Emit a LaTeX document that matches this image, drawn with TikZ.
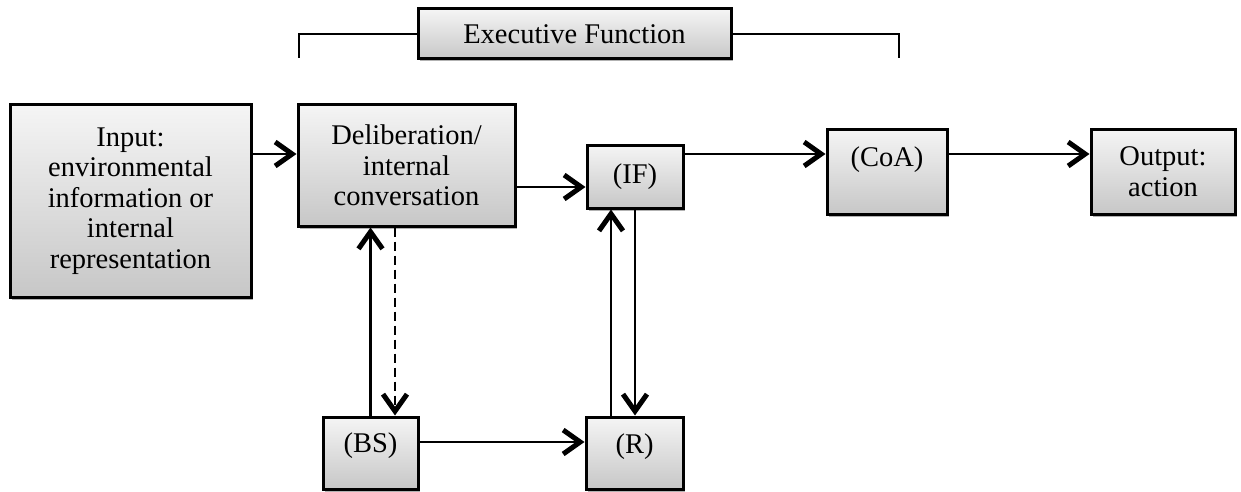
\documentclass[tikz,border=0pt]{standalone}
\usepackage{fontspec}
\setmainfont{Liberation Serif}
\usetikzlibrary{arrows.meta,shadows}
\definecolor{boxtop}{gray}{0.96}
\definecolor{boxbot}{gray}{0.78}
\begin{document}
\begin{tikzpicture}[x=1pt,y=-1pt,
  font=\fontsize{28.5}{30.5}\selectfont,
  box/.style={draw=black, line width=3pt, rectangle, align=center,
    top color=boxtop, bottom color=boxbot, inner sep=0pt,
    drop shadow={shadow xshift=1.5pt, shadow yshift=-2.5pt, opacity=0.3, fill=black}},
  arr/.style={line width=2.6pt,
    -{Straight Barb[length=17pt, width=24pt, line width=5pt]}},
  brace/.style={line width=2.2pt},
]
\useasboundingbox (0,0) rectangle (1241,492);

% boxes (centres and sizes in picture units)
\node[box, minimum width=241pt, minimum height=192pt] (inp) at (130.5,201)
  {Input:\\environmental\\information or\\internal\\representation};
\node[box, minimum width=217pt, minimum height=121pt] (del) at (406.5,165.5)
  {Deliberation/\\internal\\conversation};
\node[box, minimum width=96pt, minimum height=63pt] (if) at (635,176.5) {(IF)};
\node[box, minimum width=120pt, minimum height=85pt] (coa) at (887,171.5) {(CoA)\\\mbox{}};
\node[box, minimum width=144pt, minimum height=85pt] (out) at (1163,171.5) {Output:\\action};
\node[box, minimum width=95pt, minimum height=72pt, text height=20pt, text depth=22pt]
  (bs) at (370.5,453) {(BS)};
\node[box, minimum width=97pt, minimum height=72pt, text height=20pt, text depth=20pt]
  (r) at (634.5,453) {(R)};
\node[box, minimum width=313pt, minimum height=50pt] (ef) at (574.5,34) {Executive Function};

% bracket spanning the executive stages
\coordinate (bl) at (299,58);
\coordinate (br) at (899,58);
\draw[brace] (bl) |- (ef.west);
\draw[brace] (br) |- (ef.east);

% main flow
\draw[arr] ([yshift=47pt]inp.east) -- ([yshift=47pt]inp.east -| del.west);
\draw[arr] ([yshift=-21.5pt]del.east) -- ([yshift=-21.5pt]del.east -| if.west);
\draw[arr] ([yshift=22.5pt]if.east) -- ([yshift=22.5pt]if.east -| coa.west);
\draw[arr] ([yshift=17.5pt]coa.east) -- ([yshift=17.5pt]coa.east -| out.west);

% vertical links
\draw[arr] (bs.north) -- (bs.north |- del.south);
\draw[arr, dash pattern=on 9pt off 5pt] ([xshift=24.5pt]del.south -| bs.north) -- ([xshift=24.5pt]bs.north);
\draw[arr] ([xshift=-23.5pt]r.north) -- ([xshift=-23.5pt]r.north |- if.south);
\draw[arr] (if.south) -- (if.south |- r.north);

% lower flow
\draw[arr] ([yshift=11pt]bs.east) -- ([yshift=11pt]bs.east -| r.west);
\end{tikzpicture}
\end{document}
